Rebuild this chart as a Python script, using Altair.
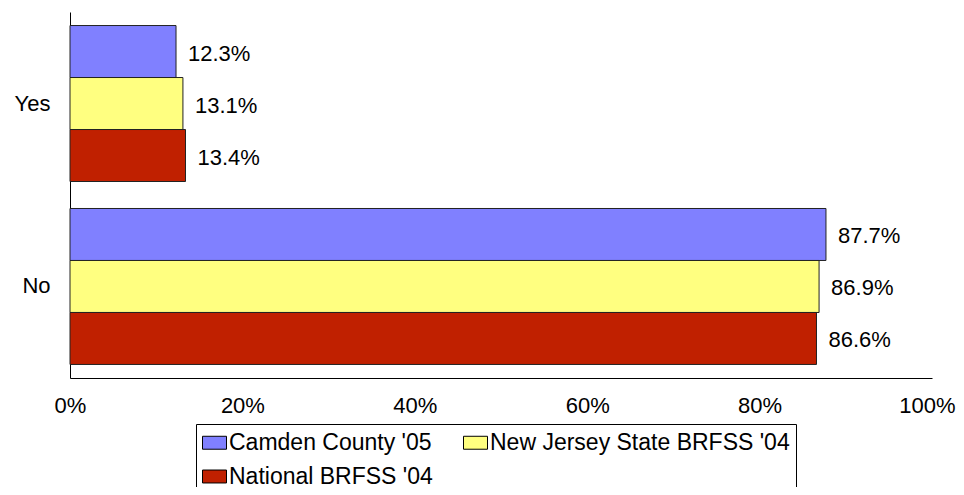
import altair as alt
import pandas as pd

categories = ["Yes", "No"]
series = ["Camden County '05", "New Jersey State BRFSS '04", "National BRFSS '04"]
camden = [12.3, 87.7]
nj = [13.1, 86.9]
national = [13.4, 86.6]
colors = ["#8080FF", "#FFFF80", "#C02000"]
x_ticks = [0, 20, 40, 60, 80, 100]

rows = []
for s, vals in zip(series, [camden, nj, national]):
    for c, v in zip(categories, vals):
        rows.append({"answer": c, "series": s, "value": v, "label": f"{v:.1f}%"})
df = pd.DataFrame(rows)

FONT = "Liberation Sans, Arial, sans-serif"

y_enc = alt.Y(
    "answer:N",
    sort=categories,
    title=None,
    scale=alt.Scale(paddingInner=0.1475, paddingOuter=0.074),
    axis=alt.Axis(
        ticks=False, domainColor="black", domainWidth=1, labelPadding=20,
        labelFont=FONT, labelFontSize=22, labelColor="black", grid=False,
    ),
)
yoff = alt.YOffset("series:N", sort=series, scale=alt.Scale(paddingInner=0, paddingOuter=0))
x_enc = alt.X(
    "value:Q",
    title=None,
    scale=alt.Scale(domain=[0, 100], nice=False),
    axis=alt.Axis(
        values=x_ticks, labelExpr="datum.value + '%'", ticks=False, grid=False,
        labelFlush=False, labelOverlap=False,
        labelOffset={"condition": {"test": "datum.value === 100", "value": -5}, "value": 0},
        domainColor="black", domainWidth=1, labelPadding=17,
        labelFont=FONT, labelFontSize=22, labelColor="black",
    ),
)

bars = alt.Chart(df).mark_bar(stroke="#222222", strokeWidth=1).encode(
    y=y_enc,
    yOffset=yoff,
    x=x_enc,
    color=alt.Color(
        "series:N",
        sort=series,
        scale=alt.Scale(domain=series, range=colors),
        legend=alt.Legend(
            title=None, orient="none", legendX=126, legendY=412, columns=2,
            direction="horizontal",
            symbolType="M-1,-0.54L1,-0.54L1,0.54L-1,0.54Z", symbolSize=576,
            symbolStrokeColor="black", symbolStrokeWidth=1, symbolOpacity=1,
            labelFont=FONT, labelFontSize=23, labelColor="black", labelOffset=2,
            labelLimit=500, columnPadding=28, rowPadding=9, padding=6,
            strokeColor="black", fillColor="white",
        ),
    ),
)

labels = alt.Chart(df).mark_text(
    align="left", baseline="middle", dx=12, dy=2, font=FONT, fontSize=22, color="black"
).encode(
    y=alt.Y("answer:N", sort=categories),
    yOffset=alt.YOffset("series:N", sort=series),
    x=alt.X("value:Q"),
    text="label:N",
)

chart = (
    alt.layer(bars, labels)
    .properties(
        width=862, height=366,
        background="white",
        autosize=alt.AutoSizeParams(type="none"),
        padding={"left": 62, "top": 4, "right": 24, "bottom": 109},
    )
    .configure_view(strokeWidth=0, stroke="transparent")
)

chart.save("out.html", embed_options={"renderer": "svg", "actions": False})
